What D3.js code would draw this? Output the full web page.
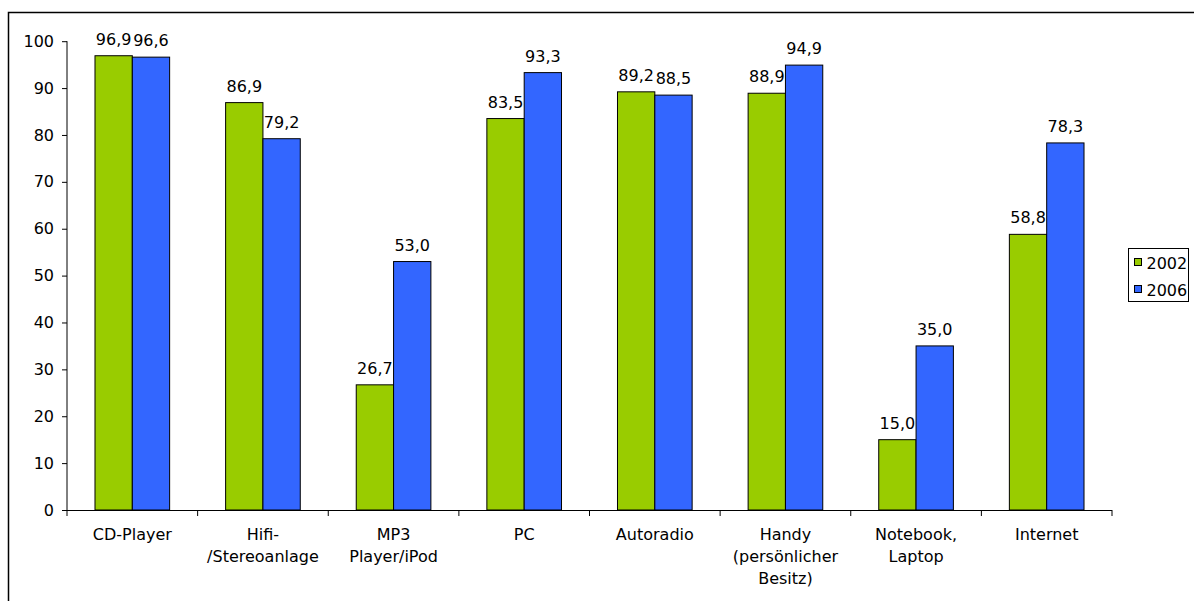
<!DOCTYPE html>
<html><head><meta charset="utf-8">
<script src="https://cdn.jsdelivr.net/npm/d3@7"></script>
<style>
html,body{margin:0;padding:0;background:#fff;overflow:hidden;}
text{font-family:"DejaVu Sans",Verdana,sans-serif;fill:#000;}
</style></head>
<body>
<script>
const categories = [["CD-Player"],["Hifi-","/Stereoanlage"],["MP3","Player/iPod"],["PC"],["Autoradio"],["Handy","(persönlicher","Besitz)"],["Notebook,","Laptop"],["Internet"]];
const series = ["2002","2006"];
const values2002 = [96.9, 86.9, 26.7, 83.5, 89.2, 88.9, 15.0, 58.8];
const values2006 = [96.6, 79.2, 53.0, 93.3, 88.5, 94.9, 35.0, 78.3];
const yTicks = [0,10,20,30,40,50,60,70,80,90,100];
const colors = ["#99CC00","#3366FF"];

const W=1194,H=601;
const svg=d3.select("body").append("svg").attr("width",W).attr("height",H);

// outer chart border (extends beyond view)
svg.append("rect").attr("x",8.5).attr("y",12.5).attr("width",1300).attr("height",700)
  .attr("fill","none").attr("stroke","#000").attr("stroke-width",1.5);

const FS=16;
const x0=67,x1=1112,yB=510,yT=41.2;
const idx=d3.range(categories.length);
const x=d3.scaleBand().domain(idx).range([x0,x1]).paddingInner(0).paddingOuter(0);
const y=d3.scaleLinear().domain([0,100]).range([yB,yT]);
const bw=x.bandwidth()/3.5;
const xs=d3.scaleBand().domain(series).range([0.75*bw,2.75*bw]);

const data=idx.map(i=>({i,vals:[values2002[i],values2006[i]]}));
const g=svg.append("g");
const grp=g.selectAll("g.cat").data(data).join("g").attr("transform",d=>`translate(${x(d.i)},0)`);
grp.selectAll("rect").data(d=>d.vals.map((v,k)=>({v,k}))).join("rect")
  .attr("x",d=>xs(series[d.k])).attr("width",xs.bandwidth())
  .attr("y",d=>y(d.v)).attr("height",d=>y(0)-y(d.v))
  .attr("fill",d=>colors[d.k]).attr("stroke","#000").attr("stroke-width",1);
grp.selectAll("text.val").data(d=>d.vals.map((v,k)=>({v,k}))).join("text").attr("class","val")
  .attr("x",d=>xs(series[d.k])+xs.bandwidth()/2).attr("y",d=>y(d.v)-11)
  .attr("text-anchor","middle").attr("font-size",FS)
  .text(d=>d.v.toFixed(1).replace(".",","));

// y axis
const yAxis=d3.axisLeft(y).tickValues(yTicks).tickSize(5).tickPadding(8).tickFormat(d=>d);
const ya=svg.append("g").attr("transform",`translate(${x0},0)`).call(yAxis);
ya.select(".domain").attr("stroke","#000").attr("d",`M0,${yB}V${yT}`);
ya.selectAll("text").attr("font-size",FS).attr("font-family","DejaVu Sans");

// x axis with boundary ticks
const xa=svg.append("g");
xa.append("line").attr("x1",x0-5).attr("x2",x1).attr("y1",yB+0.5).attr("y2",yB+0.5).attr("stroke","#000");
const bounds=idx.map(i=>x(i)).concat([x1]);
xa.selectAll("line.tk").data(bounds).join("line").attr("class","tk")
  .attr("x1",d=>d).attr("x2",d=>d).attr("y1",yB).attr("y2",yB+6).attr("stroke","#000");
const lab=xa.selectAll("text.cat").data(idx).join("text").attr("class","cat")
  .attr("text-anchor","middle").attr("font-size",FS)
  .attr("transform",i=>`translate(${x(i)+x.bandwidth()/2},${yB+30})`);
lab.selectAll("tspan").data(i=>categories[i]).join("tspan")
  .attr("x",0).attr("dy",(d,j)=>j===0?0:22).text(d=>d);

// legend
const lg=svg.append("g").attr("transform","translate(1128.5,248.5)");
lg.append("rect").attr("width",60).attr("height",53).attr("fill","#fff").attr("stroke","#000");
series.forEach((s,k)=>{
  lg.append("rect").attr("x",6).attr("y",10+k*27).attr("width",7).attr("height",7)
    .attr("fill",colors[k]).attr("stroke","#000");
  lg.append("text").attr("x",18).attr("y",20+k*27).attr("font-size",FS).text(s);
});
</script>
</body></html>
